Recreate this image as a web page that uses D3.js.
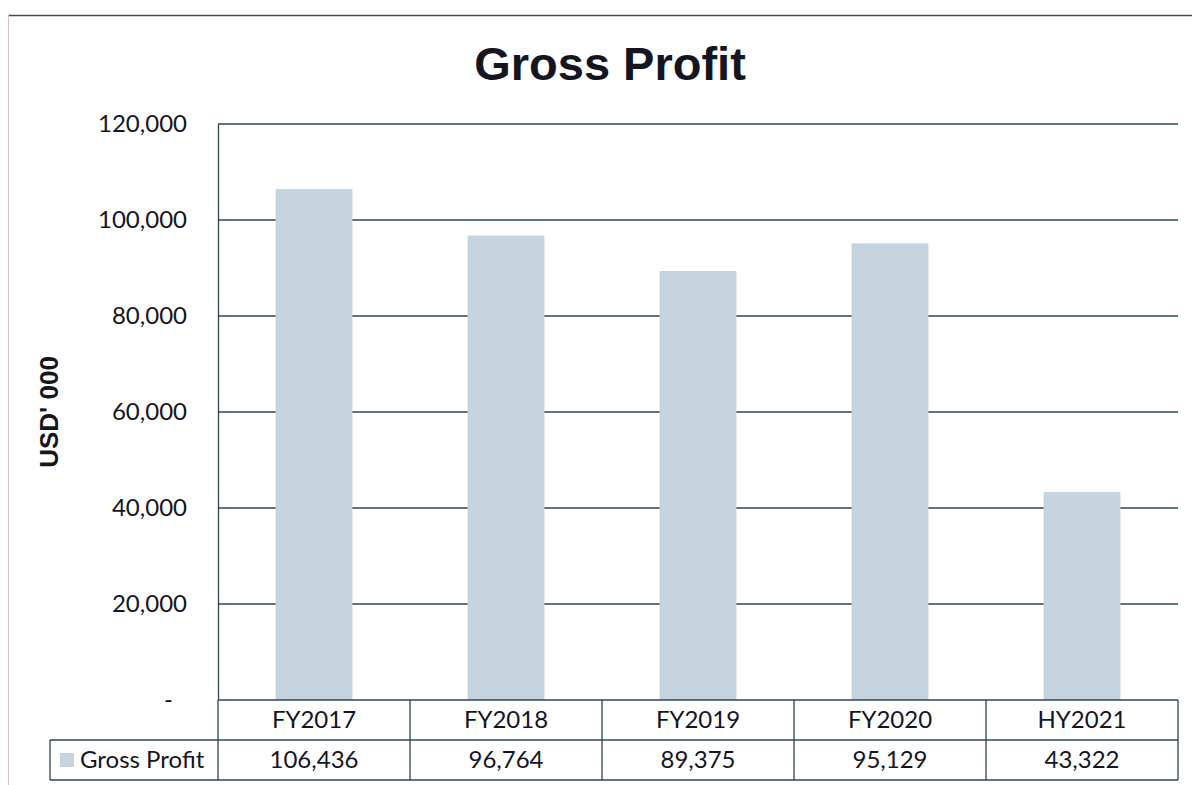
<!DOCTYPE html>
<html>
<head>
<meta charset="utf-8">
<script src="https://cdn.jsdelivr.net/npm/d3@7"></script>
<style>
  body { margin: 0; background: #fff; }
  svg { display: block; }
</style>
</head>
<body>
<div id="chart"></div>
<script>
const categories = ["FY2017", "FY2018", "FY2019", "FY2020", "HY2021"];
const grossProfit = [106436, 96764, 89375, 95129, 43322];
const yTicks = [0, 20000, 40000, 60000, 80000, 100000, 120000];
const seriesName = "Gross Profit";

const W = 1192, H = 785;
const COLORS = {
  BAR: "#c5d4de",
  GRID: "#2b4756",
  TEXT: "#15151f",
  FRAME: "#3a4f5c"
};
const margin = {top: 124, right: 14, bottom: 85, left: 218};
const rowH = 40;
const FONT = "Lato, 'Open Sans', sans-serif";
const FS = 24;

const svg = d3.select("#chart").append("svg")
  .attr("width", W)
  .attr("height", H);

// outer frame remnants
svg.append("line")
  .attr("x1", 8).attr("x2", W).attr("y1", 15.5).attr("y2", 15.5)
  .attr("stroke", COLORS.FRAME).attr("stroke-width", 1.5);
svg.append("line")
  .attr("x1", 8.5).attr("x2", 8.5).attr("y1", 15).attr("y2", H)
  .attr("stroke", "#e3b9b9").attr("stroke-width", 1);

const x = d3.scaleBand()
  .domain(categories)
  .range([margin.left, W - margin.right])
  .paddingInner(0.6)
  .paddingOuter(0.3);

const xCol = d3.scaleBand()
  .domain(categories)
  .range([margin.left, W - margin.right])
  .padding(0);

const y = d3.scaleLinear()
  .domain([0, 120000])
  .range([H - margin.bottom, margin.top]);

// title
svg.append("text")
  .attr("x", 610).attr("y", 80)
  .attr("text-anchor", "middle")
  .attr("font-family", "Liberation Sans, Arial, sans-serif")
  .attr("font-weight", "bold")
  .attr("font-size", 47)
  .attr("fill", COLORS.TEXT)
  .text("Gross Profit");

// y axis title
svg.append("text")
  .attr("transform", `translate(58,${(margin.top + y(0)) / 2}) rotate(-90)`)
  .attr("text-anchor", "middle")
  .attr("font-family", "Liberation Sans, Arial, sans-serif")
  .attr("font-weight", "bold")
  .attr("font-size", 26)
  .attr("fill", COLORS.TEXT)
  .text("USD' 000");

// gridlines
svg.append("g")
  .selectAll("line")
  .data(yTicks.filter(d => d > 0))
  .join("line")
  .attr("x1", margin.left).attr("x2", W - margin.right)
  .attr("y1", d => y(d)).attr("y2", d => y(d))
  .attr("stroke", COLORS.GRID).attr("stroke-width", 1.3);

// bars
svg.append("g")
  .selectAll("rect")
  .data(grossProfit)
  .join("rect")
  .attr("x", (d, i) => x(categories[i]))
  .attr("y", d => y(d))
  .attr("width", x.bandwidth())
  .attr("height", d => y(0) - y(d))
  .attr("fill", COLORS.BAR);

// y axis
const yAxis = d3.axisLeft(y)
  .tickValues(yTicks)
  .tickSize(0)
  .tickPadding(31)
  .tickFormat(d => d === 0 ? "-" : d3.format(",")(d));

const gy = svg.append("g")
  .attr("transform", `translate(${margin.left},0)`)
  .call(yAxis);
gy.select(".domain").attr("stroke", COLORS.GRID).attr("stroke-width", 1.3);
gy.selectAll("text")
  .attr("font-family", FONT)
  .attr("font-size", FS)
  .attr("fill", COLORS.TEXT);
gy.selectAll(".tick").filter(d => d === 0).select("text")
  .attr("dx", -14);

// data table
const tableTop = y(0);
const tbl = svg.append("g");
const right = W - margin.right;
const legendLeft = 50;

// horizontal lines
tbl.append("line")
  .attr("x1", margin.left).attr("x2", right)
  .attr("y1", tableTop).attr("y2", tableTop)
  .attr("stroke", COLORS.GRID).attr("stroke-width", 1.3);
tbl.append("line")
  .attr("x1", legendLeft).attr("x2", right)
  .attr("y1", tableTop + rowH).attr("y2", tableTop + rowH)
  .attr("stroke", COLORS.GRID).attr("stroke-width", 1.3);
tbl.append("line")
  .attr("x1", legendLeft).attr("x2", right)
  .attr("y1", tableTop + 2 * rowH).attr("y2", tableTop + 2 * rowH)
  .attr("stroke", COLORS.GRID).attr("stroke-width", 1.3);

// vertical lines
const vx = categories.map(c => xCol(c)).concat([right]);
tbl.selectAll("line.v")
  .data(vx)
  .join("line")
  .attr("class", "v")
  .attr("x1", d => d).attr("x2", d => d)
  .attr("y1", tableTop).attr("y2", tableTop + 2 * rowH)
  .attr("stroke", COLORS.GRID).attr("stroke-width", 1.3);
tbl.append("line")
  .attr("x1", legendLeft).attr("x2", legendLeft)
  .attr("y1", tableTop + rowH).attr("y2", tableTop + 2 * rowH)
  .attr("stroke", COLORS.GRID).attr("stroke-width", 1.3);

// category labels
tbl.selectAll("text.cat")
  .data(categories)
  .join("text")
  .attr("class", "cat")
  .attr("x", d => xCol(d) + xCol.bandwidth() / 2)
  .attr("y", tableTop + rowH / 2 + 8)
  .attr("text-anchor", "middle")
  .attr("font-family", FONT)
  .attr("font-size", FS)
  .attr("fill", COLORS.TEXT)
  .text(d => d);

// values
tbl.selectAll("text.val")
  .data(grossProfit)
  .join("text")
  .attr("class", "val")
  .attr("x", (d, i) => xCol(categories[i]) + xCol.bandwidth() / 2)
  .attr("y", tableTop + rowH * 1.5 + 8)
  .attr("text-anchor", "middle")
  .attr("font-family", FONT)
  .attr("font-size", FS)
  .attr("fill", COLORS.TEXT)
  .text(d => d3.format(",")(d));

// legend cell
tbl.append("rect")
  .attr("x", 60).attr("y", tableTop + rowH * 1.5 - 7)
  .attr("width", 14).attr("height", 14)
  .attr("fill", COLORS.BAR);
tbl.append("text")
  .attr("x", 80)
  .attr("y", tableTop + rowH * 1.5 + 8)
  .attr("font-family", FONT)
  .attr("font-size", FS)
  .attr("fill", COLORS.TEXT)
  .text(seriesName);
</script>
</body>
</html>
